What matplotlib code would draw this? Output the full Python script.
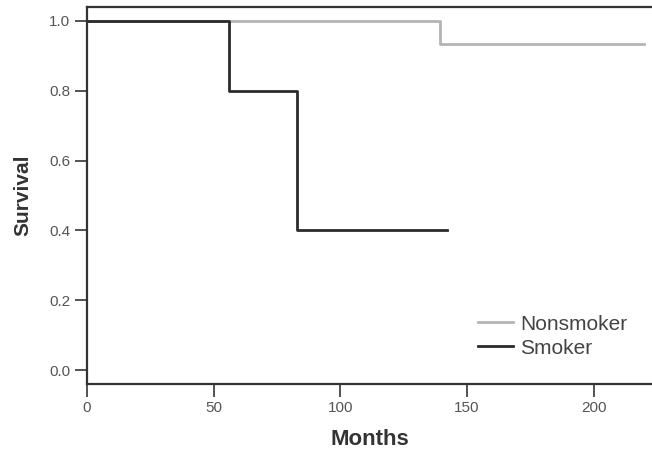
import matplotlib.pyplot as plt

plt.rcParams['font.family'] = ['Liberation Sans', 'DejaVu Sans']

# Kaplan-Meier style step data
nonsmoker_months = [0, 139.5, 220]
nonsmoker_surv = [1.0, 0.935, 0.935]
smoker_months = [0, 56, 83, 142]
smoker_surv = [1.0, 0.8, 0.4, 0.4]

xticks = [0, 50, 100, 150, 200]
yticks = [0.0, 0.2, 0.4, 0.6, 0.8, 1.0]

fig = plt.figure(figsize=(6.52, 4.53), dpi=100)
ax = fig.add_axes([0.1334, 0.1523, 0.8666, 0.8322])

ax.step(nonsmoker_months, nonsmoker_surv, where='post', color='#b4b4b4',
        linewidth=2, label='Nonsmoker')
ax.step(smoker_months, smoker_surv, where='post', color='#2b2b2b',
        linewidth=2, label='Smoker')

ax.set_xlim(0, 223)
ax.set_ylim(-0.04, 1.04)
ax.set_xticks(xticks)
ax.set_xticklabels([str(t) for t in xticks])
ax.set_yticks(yticks)
ax.set_yticklabels([f'{t:.1f}' for t in yticks])

ax.spines['right'].set_visible(False)
for side in ['left', 'bottom', 'top']:
    ax.spines[side].set_color('#333333')
    ax.spines[side].set_linewidth(1.6)
ax.tick_params(direction='out', length=9, width=1.3, color='#444444',
               labelcolor='#555555', labelsize=11, pad=3)

ax.set_xlabel('Months', fontsize=16, fontweight='bold', color='#333333', labelpad=10)
ax.set_ylabel('Survival', fontsize=15, fontweight='bold', color='#333333', labelpad=12)

ax.legend(loc='center left', bbox_to_anchor=(0.721, 0.258),
          bbox_transform=fig.transFigure, frameon=False,
          fontsize=15, handlelength=1.65, handletextpad=0.35, labelspacing=0.25,
          labelcolor='#444444', borderaxespad=0)

fig.savefig('out.png', dpi=100)
